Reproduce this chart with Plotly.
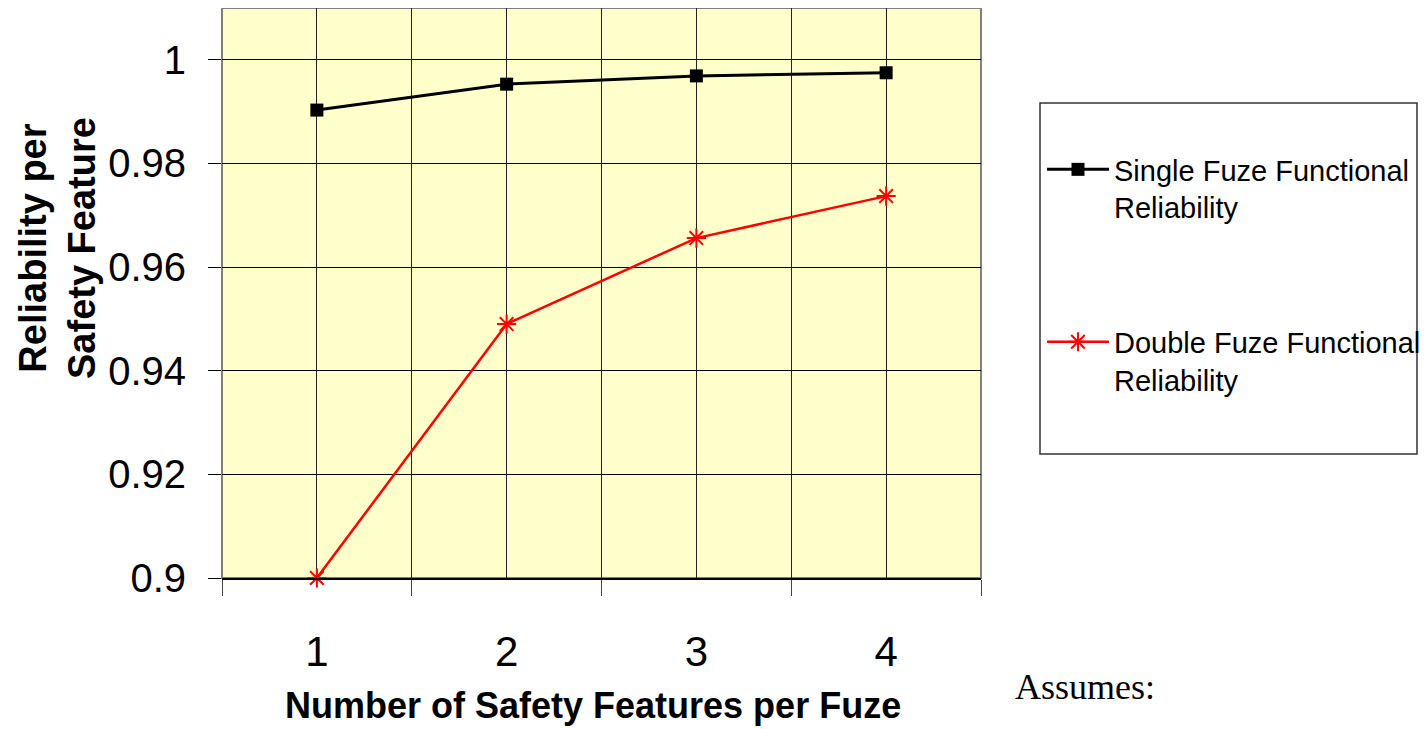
import plotly.graph_objects as go

categories = [1, 2, 3, 4]
category_labels = ["1", "2", "3", "4"]
single_fuze = [0.9903, 0.9953, 0.9969, 0.9975]
double_fuze = [0.9000, 0.9490, 0.9656, 0.9737]
y_ticks = [0.9, 0.92, 0.94, 0.96, 0.98, 1.0]
y_tick_labels = ["0.9", "0.92", "0.94", "0.96", "0.98", "1"]

SANS = "Liberation Sans, Arial, sans-serif"
SERIF = "Liberation Serif, Times New Roman, serif"

fig = go.Figure()
fig.add_trace(go.Scatter(
    x=categories, y=single_fuze, mode="lines+markers",
    name="Single Fuze Functional<br>Reliability", legendgroup="a",
    line=dict(color="black", width=3),
    marker=dict(symbol="square", size=13, color="black"),
))
fig.add_trace(go.Scatter(
    x=categories, y=double_fuze, mode="lines+markers",
    name="Double Fuze Functional<br>Reliability", legendgroup="b",
    line=dict(color="#ff0000", width=2.5),
    marker=dict(symbol="asterisk", size=16, color="#ff0000",
                line=dict(color="#ff0000", width=2)),
    cliponaxis=False,
))

# The page body has an 8px margin: the figure starts at window (8, 8).
OFF = 8
W, H = 1428 - OFF, 729 - OFF
L, T = 222 - OFF, 8 - OFF
R, B = 1428 - 981, 729 - 578
pw = W - L - R
ph = H - T - B


def px(xw):
    return (xw - OFF - L) / pw


def py(yw):
    return (H - B - (yw - OFF)) / ph


fig.update_layout(
    width=W, height=H,
    margin=dict(l=L, r=R, t=T, b=B, autoexpand=False),
    paper_bgcolor="white",
    plot_bgcolor="#FFFFCC",
    showlegend=True,
    legend=dict(
        x=px(1042), y=py(144), xanchor="left", yanchor="top",
        xref="paper", yref="paper",
        font=dict(family=SANS, size=29, color="black"),
        bgcolor="rgba(0,0,0,0)", borderwidth=0,
        tracegroupgap=94, valign="top", itemwidth=62,
    ),
    xaxis=dict(
        range=[0.5, 4.5], tickvals=categories, ticktext=category_labels,
        ticks="", showgrid=True, gridcolor="#222222", gridwidth=1,
        zeroline=False, showline=True, linecolor="black", linewidth=2,
        tickfont=dict(family=SANS, size=42, color="black"),
        ticklabelstandoff=36,
        minor=dict(tickvals=[0.5, 1.5, 2.5, 3.5, 4.5], showgrid=True,
                   gridcolor="#222222", gridwidth=1, ticks="outside",
                   ticklen=16, tickcolor="#444444", tickwidth=1),
    ),
    yaxis=dict(
        range=[0.9, 1.01], tickvals=y_ticks, ticktext=y_tick_labels,
        ticks="outside", ticklen=13, tickcolor="black", tickwidth=1,
        showgrid=True, gridcolor="black", gridwidth=1, zeroline=False,
        showline=False,
        tickfont=dict(family=SANS, size=40, color="black"),
        ticklabelstandoff=14,
    ),
    shapes=[
        dict(type="rect", xref="paper", yref="paper", x0=0, x1=1, y0=0, y1=1,
             line=dict(color="#808080", width=2), layer="below"),
        dict(type="rect", xref="paper", yref="paper",
             x0=px(1040), x1=px(1417), y0=py(454), y1=py(103),
             line=dict(color="#333333", width=1.5), fillcolor="rgba(0,0,0,0)"),
    ],
    annotations=[
        dict(text="<b>Reliability per<br>Safety Feature</b>", xref="paper", yref="paper",
             x=px(57), y=py(248), textangle=-90, showarrow=False,
             xanchor="center", yanchor="middle",
             font=dict(family=SANS, size=38, color="black")),
        dict(text="<b>Number of Safety Features per Fuze</b>", xref="paper", yref="paper",
             x=px(593), y=py(705), showarrow=False,
             xanchor="center", yanchor="middle",
             font=dict(family=SANS, size=36, color="black")),
        dict(text="Assumes:", xref="paper", yref="paper",
             x=px(1085), y=py(687), showarrow=False,
             xanchor="center", yanchor="middle",
             font=dict(family=SERIF, size=36, color="black")),
    ],
)

fig.write_html("out.html")
